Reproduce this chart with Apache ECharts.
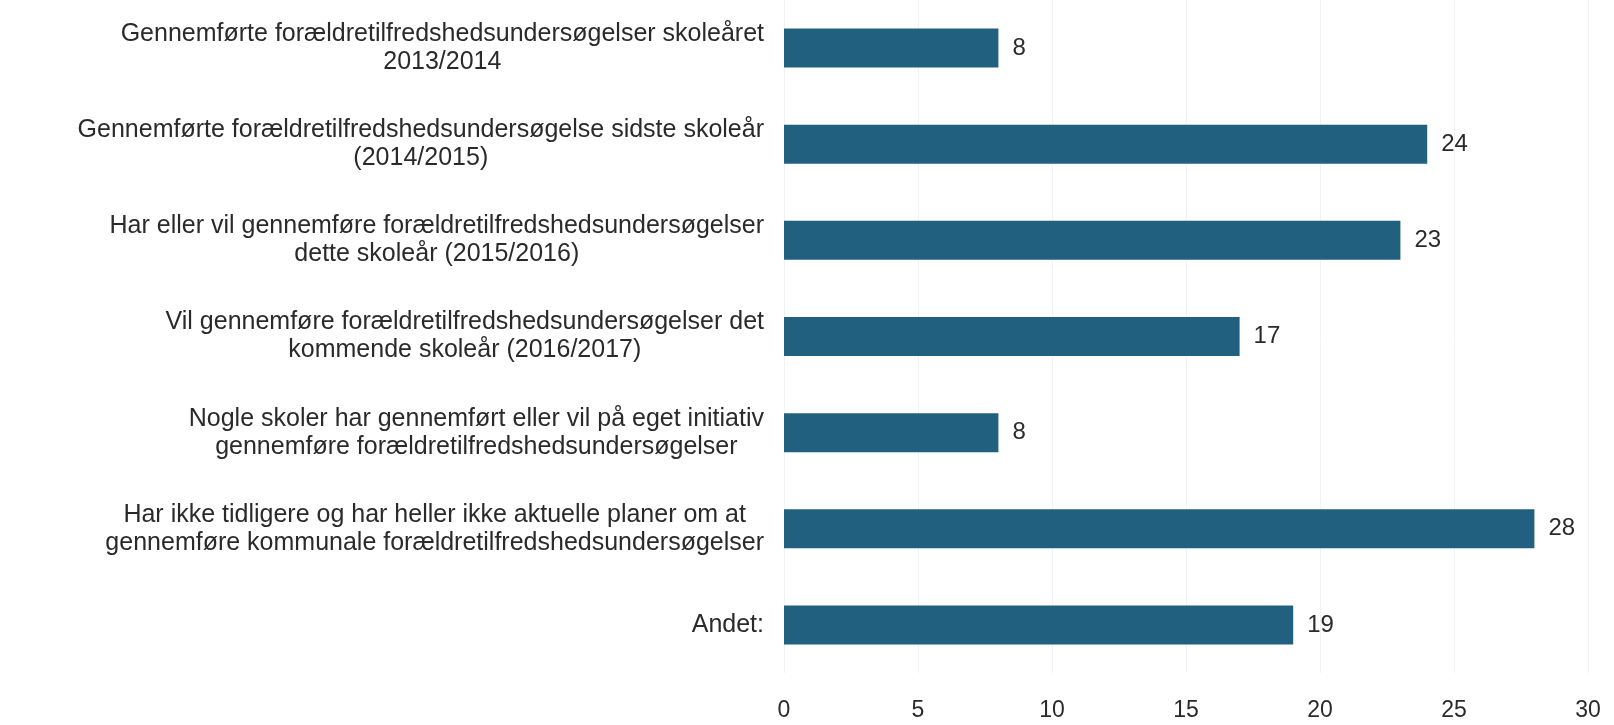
<!DOCTYPE html>
<html>
<head>
<meta charset="utf-8">
<script src="https://cdn.jsdelivr.net/npm/echarts@6/dist/echarts.min.js"></script>
<style>
  html, body { margin: 0; padding: 0; background: #fff; }
  #main { width: 1614px; height: 725px; }
</style>
</head>
<body>
<div id="main"></div>
<script>
// svar kategorier, oppefra og ned
var categories = [
    'Gennemførte forældretilfredshedsundersøgelser skoleåret\n2013/2014',
    'Gennemførte forældretilfredshedsundersøgelse sidste skoleår\n(2014/2015)',
    'Har eller vil gennemføre forældretilfredshedsundersøgelser\ndette skoleår (2015/2016)',
    'Vil gennemføre forældretilfredshedsundersøgelser det\nkommende skoleår (2016/2017)',
    'Nogle skoler har gennemført eller vil på eget initiativ\ngennemføre forældretilfredshedsundersøgelser',
    'Har ikke tidligere og har heller ikke aktuelle planer om at\ngennemføre kommunale forældretilfredshedsundersøgelser',
    'Andet:'
];
var counts = [8, 24, 23, 17, 8, 28, 19];
var xTicks = [0, 5, 10, 15, 20, 25, 30];

var myChart = echarts.init(document.getElementById('main'));
var option = {
    animation: false,
    textStyle: { fontFamily: 'Liberation Sans, Arial, sans-serif' },
    grid: {
        left: 784,
        right: 26,
        top: 0,
        bottom: 52
    },
    xAxis: {
        type: 'value',
        min: xTicks[0],
        max: xTicks[xTicks.length - 1],
        interval: 5,
        axisLine: { show: false },
        axisTick: { show: false },
        splitLine: { lineStyle: { color: '#f2f2f2', width: 1 } },
        axisLabel: {
            color: '#2a2a2a',
            fontSize: 23,
            margin: 26
        }
    },
    yAxis: {
        type: 'category',
        inverse: true,
        data: categories,
        axisLine: { show: false },
        axisTick: { show: false },
        axisLabel: {
            margin: 20,
            // hver linje centreres i blokken
            formatter: function (v) {
                return v.split('\n').map(function (l) { return '{a|' + l + '}'; }).join('\n');
            },
            rich: {
                a: {
                    align: 'center',
                    color: '#2a2a2a',
                    fontSize: 25,
                    lineHeight: 28,
                    fontFamily: 'Liberation Sans, Arial, sans-serif'
                }
            }
        }
    },
    series: [
        {
            type: 'bar',
            data: counts,
            barWidth: 39,
            itemStyle: { color: '#22607f' },
            label: {
                show: true,
                position: 'right',
                distance: 14,
                color: '#2a2a2a',
                fontSize: 24
            }
        }
    ]
};
myChart.setOption(option);
</script>
</body>
</html>
